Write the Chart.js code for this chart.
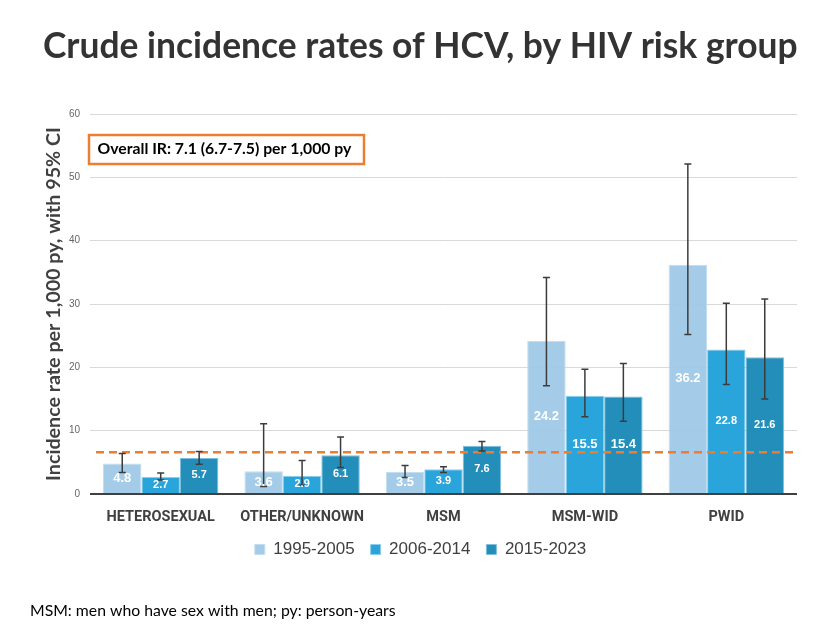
<!DOCTYPE html>
<html>
<head>
<meta charset="utf-8">
<title>Crude incidence rates of HCV, by HIV risk group</title>
<script src="https://cdn.jsdelivr.net/npm/chart.js@4.4.1/dist/chart.umd.min.js"></script>
<style>
  html, body { margin: 0; padding: 0; background: #fff; }
  #hcvChart { display: block; }
</style>
</head>
<body>
<canvas id="hcvChart" width="819" height="644"></canvas>
<script>
// ---- data ----
const groups = ['HETEROSEXUAL', 'OTHER/UNKNOWN', 'MSM', 'MSM-WID', 'PWID'];
const periods = ['1995-2005', '2006-2014', '2015-2023'];

const rate1995 = [4.8, 3.6, 3.5, 24.2, 36.2];
const rate2006 = [2.7, 2.9, 3.9, 15.5, 22.8];
const rate2015 = [5.7, 6.1, 7.6, 15.4, 21.6];

// 95% CI bounds
const low1995  = [3.4, 1.2, 2.6, 17.1, 25.2];
const high1995 = [6.4, 11.1, 4.5, 34.2, 52.1];
const low2006  = [2.2, 1.4, 3.4, 12.2, 17.3];
const high2006 = [3.3, 5.3, 4.3, 19.7, 30.1];
const low2015  = [4.7, 4.2, 6.8, 11.5, 15.0];
const high2015 = [6.7, 9.0, 8.3, 20.6, 30.8];

const overallLine = 6.6;
const yTicks = [0, 10, 20, 30, 40, 50, 60];

const titleText = 'Crude incidence rates of HCV, by HIV risk group';
const yTitleText = 'Incidence rate per 1,000 py, with 95% CI';
const boxText = 'Overall IR: 7.1 (6.7-7.5) per 1,000 py';
const footText = 'MSM: men who have sex with men; py: person-years';

const ciLow = [low1995, low2006, low2015];
const ciHigh = [high1995, high2006, high2015];

// pick a font size so a text fills a given width
function fitSize(text, weight, family, width) {
    const c = document.createElement('canvas').getContext('2d');
    c.font = `${weight} 100px "${family}"`;
    return 100 * width / c.measureText(text).width;
}

const overlay = {
    id: 'overlay',
    afterDatasetsDraw(chart) {
        const {ctx, chartArea, scales: {y}} = chart;

        // overall IR dashed line
        const yl = y.getPixelForValue(overallLine);
        ctx.save();
        ctx.strokeStyle = '#ED7D31';
        ctx.lineWidth = 2.5;
        ctx.setLineDash([8, 5]);
        ctx.beginPath();
        ctx.moveTo(chartArea.left + 6, yl);
        ctx.lineTo(chartArea.right - 4, yl);
        ctx.stroke();
        ctx.restore();

        // error bars
        ctx.save();
        ctx.strokeStyle = '#3c3c3c';
        ctx.lineWidth = 1.5;
        chart.data.datasets.forEach((ds, di) => {
            chart.getDatasetMeta(di).data.forEach((bar, i) => {
                const yt = y.getPixelForValue(ciHigh[di][i]);
                const yb = y.getPixelForValue(ciLow[di][i]);
                ctx.beginPath();
                ctx.moveTo(bar.x, yt); ctx.lineTo(bar.x, yb);
                ctx.moveTo(bar.x - 3.5, yt); ctx.lineTo(bar.x + 3.5, yt);
                ctx.moveTo(bar.x - 3.5, yb); ctx.lineTo(bar.x + 3.5, yb);
                ctx.stroke();
            });
        });
        ctx.restore();

        // value labels in the middle of each bar
        const big = ['0-0', '0-1', '0-2', '0-3', '1-3', '2-3', '0-4'];
        ctx.save();
        ctx.fillStyle = '#fff';
        ctx.textAlign = 'center';
        ctx.textBaseline = 'middle';
        chart.data.datasets.forEach((ds, di) => {
            chart.getDatasetMeta(di).data.forEach((bar, i) => {
                const size = big.includes(di + '-' + i) ? 13 : 11;
                ctx.font = `bold ${size}px "Liberation Sans"`;
                ctx.fillText(ds.data[i].toFixed(1), bar.x, (bar.y + bar.base) / 2);
            });
        });
        ctx.restore();
    },
    afterDraw(chart) {
        const {ctx} = chart;
        ctx.save();
        // title
        ctx.fillStyle = '#333333';
        ctx.textBaseline = 'alphabetic';
        ctx.font = `bold ${fitSize(titleText, 'bold', 'Lato', 755)}px "Lato"`;
        ctx.fillText(titleText, 43, 58);

        // overall IR box
        ctx.fillStyle = '#fff';
        ctx.fillRect(89, 135, 275, 29);
        ctx.strokeStyle = '#ED7D31';
        ctx.lineWidth = 2.5;
        ctx.strokeRect(89, 135, 275, 29);
        ctx.fillStyle = '#000';
        ctx.font = `bold ${fitSize(boxText, 'bold', 'Lato', 254)}px "Lato"`;
        ctx.fillText(boxText, 97.5, 154);

        // footnote
        ctx.fillStyle = '#000';
        ctx.font = `normal ${fitSize(footText, 'normal', 'Lato', 366)}px "Lato"`;
        ctx.fillText(footText, 30, 616);
        ctx.restore();
    }
};

function draw() {
    new Chart(document.getElementById('hcvChart'), {
        type: 'bar',
        data: {
            labels: groups,
            datasets: [
                {label: periods[0], data: rate1995, backgroundColor: 'rgba(157, 200, 230, 0.93)', borderColor: '#c2ddf1', borderWidth: 1},
                {label: periods[1], data: rate2006, backgroundColor: 'rgba(34, 162, 218, 0.97)', borderColor: '#8fcdea', borderWidth: 1},
                {label: periods[2], data: rate2015, backgroundColor: 'rgba(29, 138, 184, 0.97)', borderColor: '#7fbfdc', borderWidth: 1}
            ]
        },
        options: {
            responsive: false,
            animation: false,
            categoryPercentage: 0.816,
            barPercentage: 1.0,
            layout: {padding: {top: 114, left: 44, right: 22, bottom: 76}},
            plugins: {
                title: {display: false},
                tooltip: {enabled: false},
                legend: {
                    position: 'bottom',
                    labels: {
                        boxWidth: 10,
                        boxHeight: 10,
                        padding: 16,
                        color: '#404040',
                        font: {family: 'Liberation Sans', size: 17}
                    }
                }
            },
            scales: {
                x: {
                    afterFit(scale) { scale.height = 31; },
                    grid: {display: false, drawTicks: false},
                    border: {display: false},
                    ticks: {
                        color: '#404040',
                        padding: 15,
                        font: {family: 'Roboto', weight: 'bold', size: 14.5}
                    }
                },
                y: {
                    min: 0,
                    max: 60,
                    afterBuildTicks(scale) { scale.ticks = yTicks.map(v => ({value: v})); },
                    afterFit(scale) { scale.width = 46; },
                    border: {display: false},
                    grid: {
                        drawTicks: false,
                        color: c => c.tick && c.tick.value === 0 ? '#404040' : '#d9d9d9',
                        lineWidth: c => c.tick && c.tick.value === 0 ? 2 : 1
                    },
                    ticks: {
                        padding: 10,
                        color: '#666666',
                        font: {family: 'Liberation Sans', size: 10}
                    },
                    title: {
                        display: true,
                        text: yTitleText,
                        color: '#404040',
                        padding: 0,
                        font: {family: 'Lato', weight: 'bold', size: fitSize(yTitleText, 'bold', 'Lato', 354), lineHeight: 1}
                    }
                }
            }
        },
        plugins: [overlay]
    });
}

const fontLoads = ['bold 20px "Lato"', '20px "Lato"', 'bold 13px "Roboto"', '16px "Liberation Sans"']
    .map(f => document.fonts.load(f));
Promise.all(fontLoads).then(draw, draw);
</script>
</body>
</html>
